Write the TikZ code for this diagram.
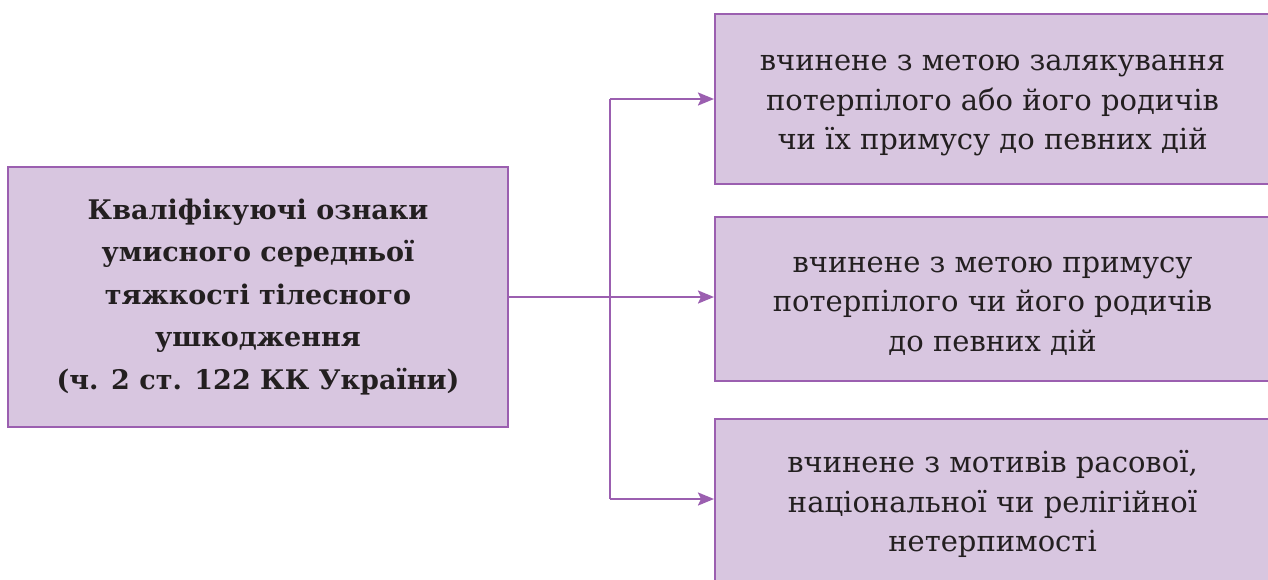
\documentclass[tikz,border=0pt]{standalone}
\usepackage{fontspec}
\setmainfont{DejaVu Serif}
\usetikzlibrary{arrows.meta}
\definecolor{boxfill}{HTML}{D8C6E0}
\definecolor{boxline}{HTML}{9B5FB0}
\definecolor{txt}{HTML}{231F20}
\newcommand\topgap{\rule{0pt}{29pt}}
\tikzset{
  x=1pt, y=-1pt,
  mainbox/.style={draw=boxline, line width=2pt, fill=boxfill, text=txt,
    minimum width=500pt, minimum height=260pt, align=center, inner sep=0pt,
    font=\fontsize{27}{42.5}\selectfont\bfseries},
  itembox/.style={draw=boxline, line width=2pt, fill=boxfill, text=txt,
    minimum width=555pt, align=center, inner sep=0pt,
    font=\fontsize{29}{39.5}\selectfont},
  conn/.style={draw=boxline, line width=2.2pt},
  arr/.style={conn, -{Stealth[length=16pt,width=13pt,inset=3pt]}}
}
\begin{document}
\begin{tikzpicture}
\path[clip] (0,0) rectangle (1268,579);
\node[mainbox] (L) at (258,297) {Кваліфікуючі ознаки\\умисного середньої\\тяжкості тілесного\\ушкодження\\(ч. 2 ст. 122 КК України)};
\node[itembox, minimum height=170pt] (B1) at (992.5,99) {\topgap вчинене з метою залякування\\потерпілого або його родичів\\чи їх примусу до певних дій};
\node[itembox, minimum height=164pt] (B2) at (992.5,299) {\topgap вчинене з метою примусу\\потерпілого чи його родичів\\до певних дій};
\node[itembox, minimum height=164pt] (B3) at (992.5,501) {\topgap вчинене з мотивів расової,\\національної чи релігійної\\нетерпимості};
\coordinate (J1) at (610,99);
\coordinate (J3) at (610,499);
\draw[arr] (L.east |- 0,297) -- (B2.west |- 0,297);
\draw[conn] (J1) -- (J3);
\draw[arr] (J1) -- (B1.west |- J1);
\draw[arr] (J3) -- (B3.west |- J3);
\end{tikzpicture}
\end{document}
